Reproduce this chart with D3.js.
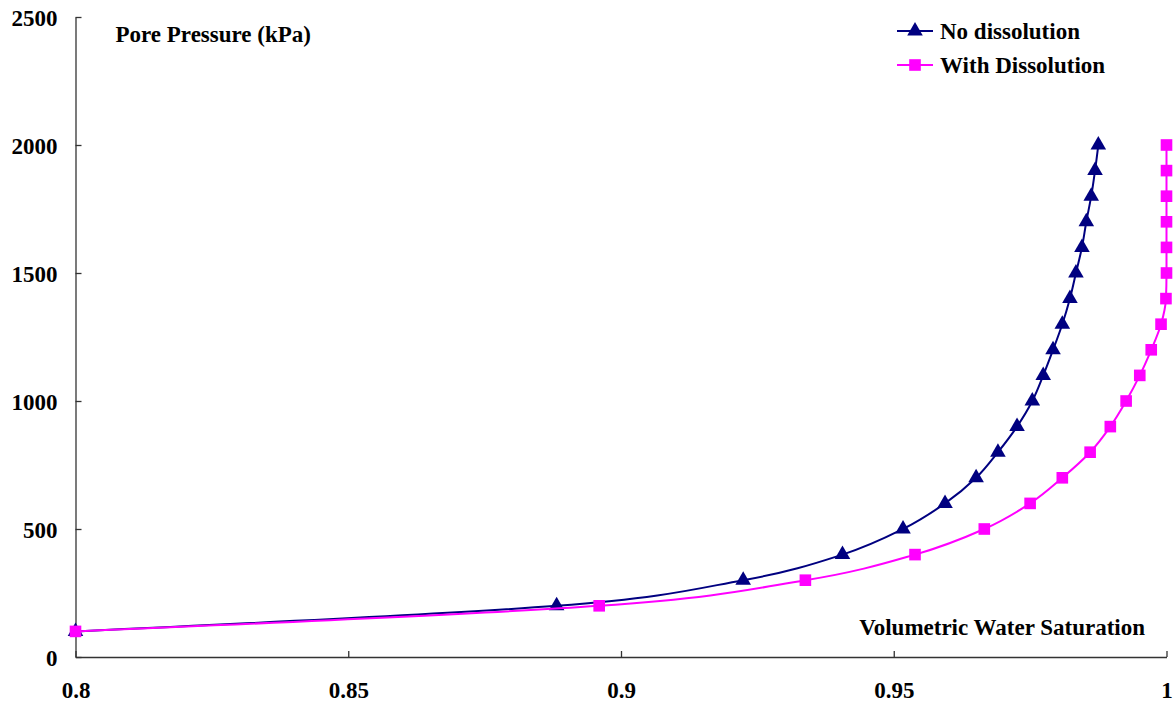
<!DOCTYPE html>
<html>
<head>
<meta charset="utf-8">
<script src="https://cdn.jsdelivr.net/npm/d3@7"></script>
<style>
    body { margin: 0; background: #fff; }
    text { font-family: "Times New Roman", "Liberation Serif", serif; font-weight: bold; }
</style>
</head>
<body>
<div id="chart"></div>
<script>
// pore pressure (kPa) steps
var pressure = [100, 200, 300, 400, 500, 600, 700, 800, 900, 1000,
    1100, 1200, 1300, 1400, 1500, 1600, 1700, 1800, 1900, 2000];

// volumetric water saturation, no dissolution
var satNoDiss = [0.8, 0.8882, 0.9224, 0.9406, 0.9517, 0.9594, 0.9651, 0.9691, 0.9726, 0.9754,
    0.9774, 0.9792, 0.9809, 0.9823, 0.9834, 0.9845, 0.9853, 0.9862, 0.9869, 0.9875];

// volumetric water saturation, with dissolution
var satDiss = [0.8, 0.8960, 0.9338, 0.9539, 0.9666, 0.9750, 0.9809, 0.9860, 0.9897, 0.9926,
    0.9951, 0.9972, 0.9990, 0.9999, 1.0, 1.0, 1.0, 1.0, 1.0, 1.0];

var xTicks = [0.8, 0.85, 0.9, 0.95, 1];
var yTicks = [0, 500, 1000, 1500, 2000, 2500];
var seriesNames = ["No dissolution", "With Dissolution"];

var W = 1173, H = 704;
var margin = {top: 17, right: 6, bottom: 47, left: 75.5};
var width = W - margin.left - margin.right;
var height = H - margin.top - margin.bottom;
var fontSize = "23px";

var svg = d3.select("#chart").append("svg")
    .attr("width", W)
    .attr("height", H);

var g = svg.append("g")
    .attr("transform", "translate(" + margin.left + "," + margin.top + ")");

var x = d3.scaleLinear().domain([0.8, 1]).range([0, width - 0.5]);
var y = d3.scaleLinear().domain([0, 2500]).range([height, 0]);

// axes (ticks point inward, like the original)
var xAxis = d3.axisBottom(x).tickValues(xTicks).tickSizeInner(-6).tickSizeOuter(0)
    .tickFormat(function(d){ return d === 1 ? "1" : String(d); });
var yAxis = d3.axisLeft(y).tickValues(yTicks).tickSizeInner(-6).tickSizeOuter(0)
    .tickFormat(d3.format("d"));

var gX = g.append("g")
    .attr("transform", "translate(0," + height + ")")
    .call(xAxis);
gX.selectAll("text").attr("dy", "0.35em").attr("y", 33).style("font-size", fontSize).attr("fill", "#000");

var gY = g.append("g").call(yAxis);
gY.selectAll("text").attr("x", -18).attr("dy", "0.35em").style("font-size", fontSize).attr("fill", "#000");

g.selectAll(".domain").attr("stroke", "#333").attr("stroke-width", 1.3);
g.selectAll(".tick line").attr("stroke", "#333").attr("stroke-width", 1.3);

// series
var series = [
    {name: seriesNames[0], sat: satNoDiss, color: "#000080", marker: d3.symbolTriangle, size: 105},
    {name: seriesNames[1], sat: satDiss, color: "#FF00FF", marker: d3.symbolSquare, size: 135}
];

var line = d3.line()
    .x(function(d){ return x(d[0]); })
    .y(function(d){ return y(d[1]); })
    .curve(d3.curveMonotoneY);

series.forEach(function(s){
    var pts = s.sat.map(function(v, i){ return [v, pressure[i]]; });
    g.append("path")
        .datum(pts)
        .attr("fill", "none")
        .attr("stroke", s.color)
        .attr("stroke-width", 2)
        .attr("d", line);

    g.selectAll(null)
        .data(pts)
        .enter().append("path")
        .attr("transform", function(d){ return "translate(" + x(d[0]) + "," + y(d[1]) + ")"; })
        .attr("d", d3.symbol().type(s.marker).size(s.size))
        .attr("fill", s.color);
});

// axis titles
g.append("text")
    .attr("x", 40)
    .attr("y", 25)
    .style("font-size", fontSize)
    .text("Pore Pressure (kPa)");

g.append("text")
    .attr("x", width - 22)
    .attr("y", 618)
    .attr("text-anchor", "end")
    .style("font-size", fontSize)
    .text("Volumetric Water Saturation");

// legend
var legend = svg.selectAll(".legend")
    .data(series)
    .enter().append("g")
    .attr("class", "legend")
    .attr("transform", function(d, i){ return "translate(897," + (31 + i * 34) + ")"; });

legend.append("line")
    .attr("x1", 0).attr("x2", 36)
    .attr("stroke", function(d){ return d.color; })
    .attr("stroke-width", 2);

legend.append("path")
    .attr("transform", "translate(18,0)")
    .attr("d", function(d){ return d3.symbol().type(d.marker).size(d.size)(); })
    .attr("fill", function(d){ return d.color; });

legend.append("text")
    .attr("x", 43)
    .attr("dy", "0.35em")
    .style("font-size", fontSize)
    .text(function(d){ return d.name; });
</script>
</body>
</html>
